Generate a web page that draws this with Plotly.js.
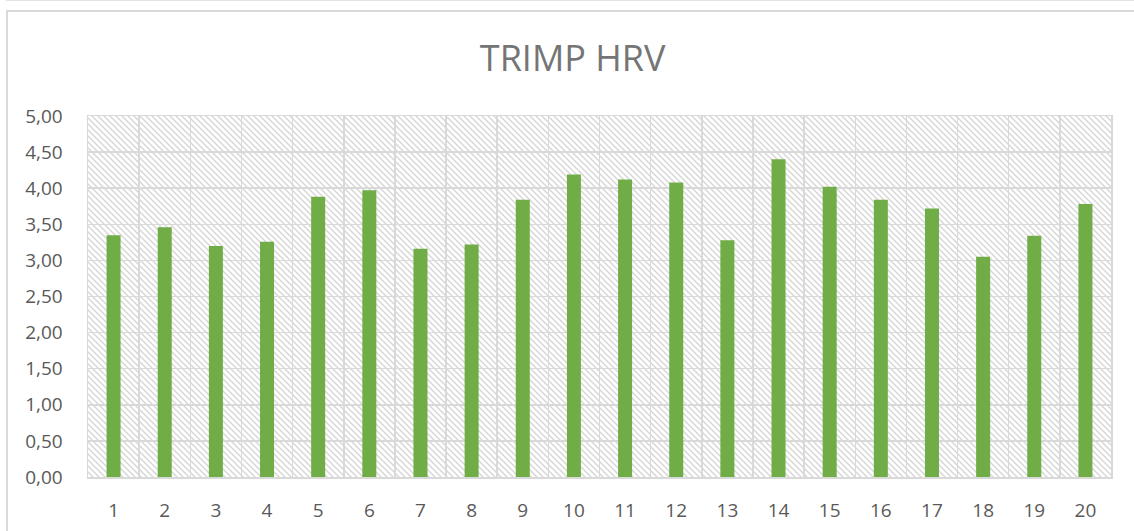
<!DOCTYPE html>
<html>
<head>
<meta charset="utf-8">
<script src="https://cdn.plot.ly/plotly-3.0.1.min.js"></script>
<style>
  html, body { margin: 0; padding: 0; background: #ffffff; overflow: hidden; }
  #wrap { position: relative; width: 1134px; height: 531px; }
  #frame { position: absolute; left: 6px; top: 10px; width: 1200px; height: 600px;
           border-left: 2px solid #d9d9d9; border-top: 2px solid #d9d9d9; box-sizing: border-box; }
  #topline { position: absolute; left: 6px; top: 0px; width: 1200px; height: 1px; background: #e3e3e3; }
  #chart { position: absolute; left: 0; top: 0; width: 1134px; height: 531px; }
</style>
</head>
<body>
<div id="wrap">
  <div id="topline"></div>
  <div id="frame"></div>
  <div id="chart"></div>
</div>
<script>
const categories = ["1","2","3","4","5","6","7","8","9","10","11","12","13","14","15","16","17","18","19","20"];
const trimpValues = [3.35, 3.46, 3.20, 3.26, 3.88, 3.97, 3.16, 3.22, 3.84, 4.19, 4.12, 4.08, 3.28, 4.40, 4.02, 3.84, 3.72, 3.05, 3.34, 3.78];
const yTicks = [0, 0.5, 1, 1.5, 2, 2.5, 3, 3.5, 4, 4.5, 5];
const chartTitle = "TRIMP HRV";

const grid = "#d9d9d9";
const tickFont = { family: "Open Sans, sans-serif", size: 19, color: "#595959" };

const data = [{
  type: "bar",
  x: categories,
  y: trimpValues,
  marker: { color: "#70ad47", line: { width: 0 } },
  hoverinfo: "x+y"
}];

const layout = {
  width: 1134,
  height: 531,
  margin: { l: 88, r: 23, t: 116, b: 54, pad: 0 },
  paper_bgcolor: "rgba(0,0,0,0)",
  plot_bgcolor: "#ffffff",
  separators: ",.",
  bargap: 0.726,
  showlegend: false,
  title: {
    text: chartTitle,
    font: { family: "Open Sans, sans-serif", size: 36, color: "#757575" },
    xref: "container", x: 0.505, xanchor: "center",
    yref: "container", y: 1 - 58 / 531, yanchor: "middle"
  },
  xaxis: {
    type: "category",
    tickson: "boundaries",
    showgrid: true, gridcolor: grid, gridwidth: 1.5,
    showline: true, linecolor: grid, linewidth: 1.5, mirror: true,
    ticks: "", tickfont: tickFont,
    ticklabelstandoff: 16,
    zeroline: false, fixedrange: true
  },
  yaxis: {
    range: [0, 5],
    tickvals: yTicks,
    tickformat: ".2f",
    showgrid: true, gridcolor: grid, gridwidth: 1.5,
    showline: true, linecolor: grid, linewidth: 1.5, mirror: true,
    ticks: "", tickfont: tickFont,
    ticklabelstandoff: 20,
    zeroline: false, fixedrange: true
  }
};

Plotly.newPlot("chart", data, layout, { staticPlot: true, displayModeBar: false }).then(function (gd) {
  // Hatched plot-area background (Excel "wide downward diagonal" pattern)
  const svgNS = "http://www.w3.org/2000/svg";
  const svg = gd.querySelector("svg.main-svg");
  let defs = svg.querySelector("defs");
  if (!defs) { defs = document.createElementNS(svgNS, "defs"); svg.insertBefore(defs, svg.firstChild); }
  const pat = document.createElementNS(svgNS, "pattern");
  pat.setAttribute("id", "hatchBg");
  pat.setAttribute("patternUnits", "userSpaceOnUse");
  pat.setAttribute("width", "6");
  pat.setAttribute("height", "6");
  const r = document.createElementNS(svgNS, "rect");
  r.setAttribute("width", "6"); r.setAttribute("height", "6"); r.setAttribute("fill", "#ffffff");
  pat.appendChild(r);
  [["-1","-1","7","7"],["-1","5","1","7"],["5","-1","7","1"]].forEach(function (c) {
    const l = document.createElementNS(svgNS, "line");
    l.setAttribute("x1", c[0]); l.setAttribute("y1", c[1]);
    l.setAttribute("x2", c[2]); l.setAttribute("y2", c[3]);
    l.setAttribute("stroke", "#d6d6d6"); l.setAttribute("stroke-width", "1.4");
    pat.appendChild(l);
  });
  defs.appendChild(pat);
  const bg = gd.querySelector(".bglayer .bg");
  if (bg) { bg.style.fill = "url(#hatchBg)"; bg.setAttribute("fill", "url(#hatchBg)"); }
});
</script>
</body>
</html>
